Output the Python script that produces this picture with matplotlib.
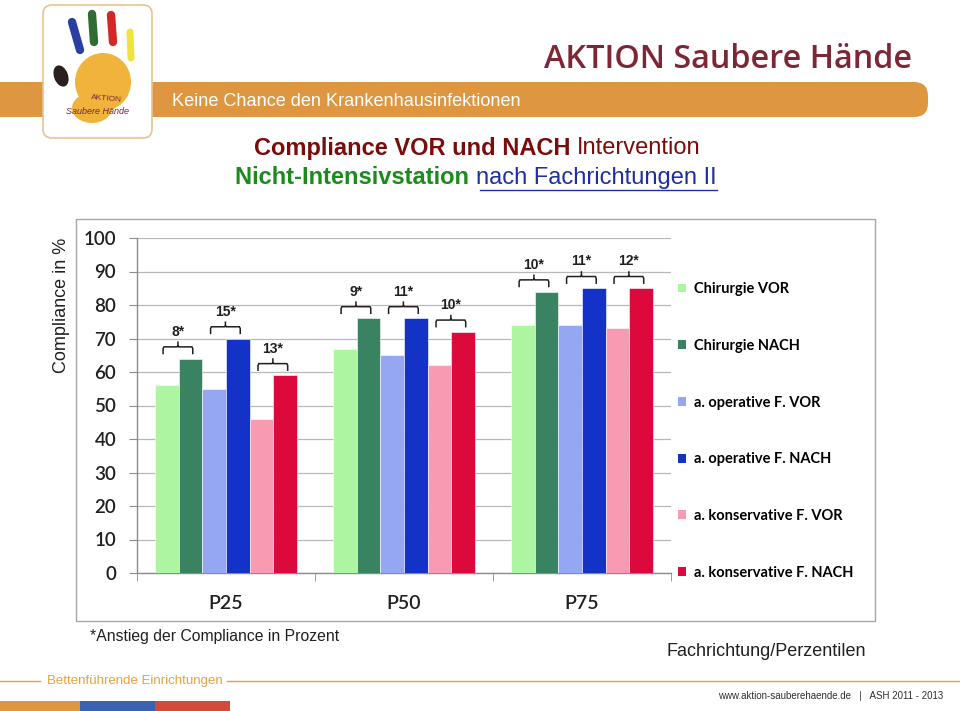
import matplotlib
matplotlib.use('Agg')
import matplotlib.pyplot as plt
from matplotlib.patches import Rectangle, FancyBboxPatch, Ellipse, PathPatch
from matplotlib.path import Path
import numpy as np

# ---------------- data ----------------
categories = ['P25', 'P50', 'P75']
series_names = ['Chirurgie VOR', 'Chirurgie NACH', 'a. operative F. VOR',
                'a. operative F. NACH', 'a. konservative F. VOR', 'a. konservative F. NACH']
chir_vor = [56, 67, 74]
chir_nach = [64, 76, 84]
op_vor = [55, 65, 74]
op_nach = [70, 76, 85]
kons_vor = [46, 62, 73]
kons_nach = [59, 72, 85]
increase_labels = [['8*', '15*', '13*'], ['9*', '11*', '10*'], ['10*', '11*', '12*']]
yticks = list(range(0, 101, 10))
colors = ['#aef5a2', '#3a8362', '#95a6f2', '#1432c8', '#f79ab2', '#dc0a3c']

series = [chir_vor, chir_nach, op_vor, op_nach, kons_vor, kons_nach]

W, H = 960, 711
fig = plt.figure(figsize=(W / 100, H / 100), dpi=100)
fig.patch.set_facecolor('white')

# background decoration axes in pixel coordinates
bg = fig.add_axes([0, 0, 1, 1])
bg.set_xlim(0, W)
bg.set_ylim(H, 0)
bg.axis('off')

ARIAL = ['Liberation Sans', 'DejaVu Sans']
CAL = ['Lato', 'DejaVu Sans']

# header band
bg.add_patch(FancyBboxPatch((-30, 82), 958, 35, boxstyle='round,pad=0,rounding_size=14',
                            facecolor='#df9641', edgecolor='none'))
bg.text(172, 101, 'Keine Chance den Krankenhausinfektionen', color='white',
        fontsize=13.1, family=ARIAL, va='center', ha='left')
bg.text(912, 59, 'AKTION Saubere Hände', color='#7d2636', fontsize=23.3,
        family=['Open Sans', 'DejaVu Sans'], fontweight='semibold', va='center', ha='right')

# logo
bg.add_patch(FancyBboxPatch((43, 5), 109, 133, boxstyle='round,pad=0,rounding_size=9',
                            facecolor='white', edgecolor='#e6c48e', lw=1.2))
bg.add_patch(Ellipse((103, 82), 56, 58, facecolor='#f0b43c', edgecolor='none'))
bg.add_patch(Ellipse((92, 108), 40, 30, facecolor='#f0b43c', edgecolor='none'))
for (x0, y0, x1, y1, c, lw) in [(72, 22, 80, 50, '#2a3fa0', 6), (92, 14, 94, 42, '#2f6b32', 6),
                                (111, 15, 113, 42, '#d42828', 6), (130, 32, 131, 58, '#f2e23c', 5)]:
    bg.plot([x0, x1], [y0, y1], color=c, lw=lw, solid_capstyle='round')
bg.add_patch(Ellipse((61, 76), 14, 22, angle=-20, facecolor='#2a2020', edgecolor='none'))
bg.text(106, 99, 'AKTION', color='#7d2636', fontsize=6, ha='center', va='center',
        family=ARIAL, rotation=-5)
bg.text(98, 112, 'Saubere Hände', color='#7d2636', fontsize=6.5, ha='center', va='center',
        family=ARIAL, style='italic')

# title (mixed styles), centered
renderer = fig.canvas.get_renderer()


def mixed_line(parts, xc, y, size):
    texts = []
    x = 0
    for s, col, wt, ul in parts:
        t = bg.text(x, y, s, color=col, fontweight=wt, fontsize=size, family=ARIAL,
                    va='center', ha='left')
        bb = t.get_window_extent(renderer)
        texts.append((t, bb.width, ul))
        x += bb.width
    total = x
    cur = xc - total / 2
    for t, w, ul in texts:
        t.set_x(cur)
        if ul:
            bg.plot([cur + 4, cur + w], [y + 12, y + 12], color=t.get_color(), lw=1)
        cur += w


mixed_line([('Compliance VOR und NACH ', '#7a0c0c', 'bold', False),
            ('Intervention', '#7a0c0c', 'normal', False)], 477, 148, 17)
mixed_line([('Nicht-Intensivstation ', '#1c8a1c', 'bold', False),
            ('nach Fachrichtungen II', '#1f2fa0', 'normal', True)], 476, 178, 17)

# chart frame
bg.add_patch(Rectangle((76, 219), 799, 402, facecolor='white', edgecolor='#a6a6a6', lw=1))

bg.text(62, 305, 'Compliance in %', rotation=90, fontsize=13, family=ARIAL,
        va='center', ha='center', color='#202020')

# footer
bg.text(90, 636, '*Anstieg der Compliance in Prozent', fontsize=11.3, family=ARIAL,
        va='center', ha='left', color='#202020')
bg.text(866, 652, 'Fachrichtung/Perzentilen', fontsize=13, family=ARIAL,
        va='center', ha='right', color='#202020')
bg.plot([0, 40], [681, 681], color='#e6a23a', lw=1)
bg.plot([227, 960], [681, 681], color='#e6a23a', lw=1)
bg.text(47, 681, 'Bettenführende Einrichtungen', fontsize=9.5, family=ARIAL,
        va='center', ha='left', color='#e6a23a')
bg.text(943, 696, 'www.aktion-sauberehaende.de   |   ASH 2011 - 2013', fontsize=7,
        family=ARIAL, va='center', ha='right', color='#303030')
bg.add_patch(Rectangle((0, 701), 80, 10, facecolor='#df9641', edgecolor='none'))
bg.add_patch(Rectangle((80, 701), 75, 10, facecolor='#3b62b0', edgecolor='none'))
bg.add_patch(Rectangle((155, 701), 75, 10, facecolor='#d24a3a', edgecolor='none'))

# ---------------- chart ----------------
ax = fig.add_axes([137 / W, 1 - 573 / H, (671 - 137) / W, (573 - 238) / H])
ax.patch.set_alpha(0)
n = len(series)
w = 0.8 / n
x = np.arange(len(categories))
handles = []
for i, (vals, col, name) in enumerate(zip(series, colors, series_names)):
    ax.bar(x + (i - (n - 1) / 2) * w, vals, width=w, color=col, label=name, zorder=3,
           edgecolor='white', linewidth=0.4)
    handles.append(Rectangle((0, 0), 1, 1, facecolor=col, edgecolor='none'))

# brackets (brace-like)
for ci in range(len(categories)):
    for j in range(3):
        xv = x[ci] + (2 * j - (n - 1) / 2) * w - 0.15 * w
        xn = x[ci] + (2 * j + 1 - (n - 1) / 2) * w + 0.1 * w
        yn = series[2 * j + 1][ci]
        yb = yn + 3.5
        xm = (xv + xn) / 2
        dx = 0.12 * w
        verts = [(xv, yb - 2.2), (xv, yb - 0.5), (xv + dx * 0.3, yb), (xm - dx * 0.3, yb),
                 (xm, yb + 0.4), (xm, yb + 1.6), (xm, yb + 0.4), (xm + dx * 0.3, yb),
                 (xn - dx * 0.3, yb), (xn, yb - 0.5), (xn, yb - 2.2)]
        codes = [Path.MOVETO] + [Path.LINETO] * 5 + [Path.MOVETO] + [Path.LINETO] * 4
        ax.add_patch(PathPatch(Path(verts, codes), facecolor='none', edgecolor='#202020',
                               lw=1.1, zorder=4))
        ax.text(xm, yb + 2.4, increase_labels[ci][j], ha='center', va='bottom',
                fontsize=10, fontweight='bold', family=ARIAL, color='#202020', zorder=4)

ax.set_xlim(-0.5, len(categories) - 0.5)
ax.set_ylim(0, 100)
ax.set_yticks(yticks)
ax.set_yticklabels([str(v) for v in yticks], family=CAL, fontsize=13.5, fontweight='semibold',
                   color='#202020')
ax.set_xticks(x)
ax.set_xticklabels(categories, family=CAL, fontsize=14, fontweight='semibold', color='#202020')
ax.set_xticks(np.arange(len(categories) + 1) - 0.5, minor=True)
ax.tick_params(axis='x', which='major', length=0, pad=16)
ax.tick_params(axis='x', which='minor', length=6, color='#8c8c8c', direction='out')
ax.tick_params(axis='y', length=6, color='#8c8c8c', pad=9)
ax.yaxis.grid(True, color='#b8b8b8', lw=0.9, zorder=0)
ax.set_axisbelow(True)
for s in ['top', 'right']:
    ax.spines[s].set_visible(False)
for s in ['left', 'bottom']:
    ax.spines[s].set_color('#8c8c8c')
    ax.spines[s].set_linewidth(1)

fig.legend(handles, series_names, loc='upper left', bbox_to_anchor=(665 / W, 1 - 269 / H),
           frameon=False, handlelength=0.55, handleheight=0.55, handletextpad=0.55,
           labelspacing=2.93, prop={'family': CAL, 'size': 10.5, 'weight': 'bold'})

fig.savefig('out.png', dpi=100, facecolor='white')
